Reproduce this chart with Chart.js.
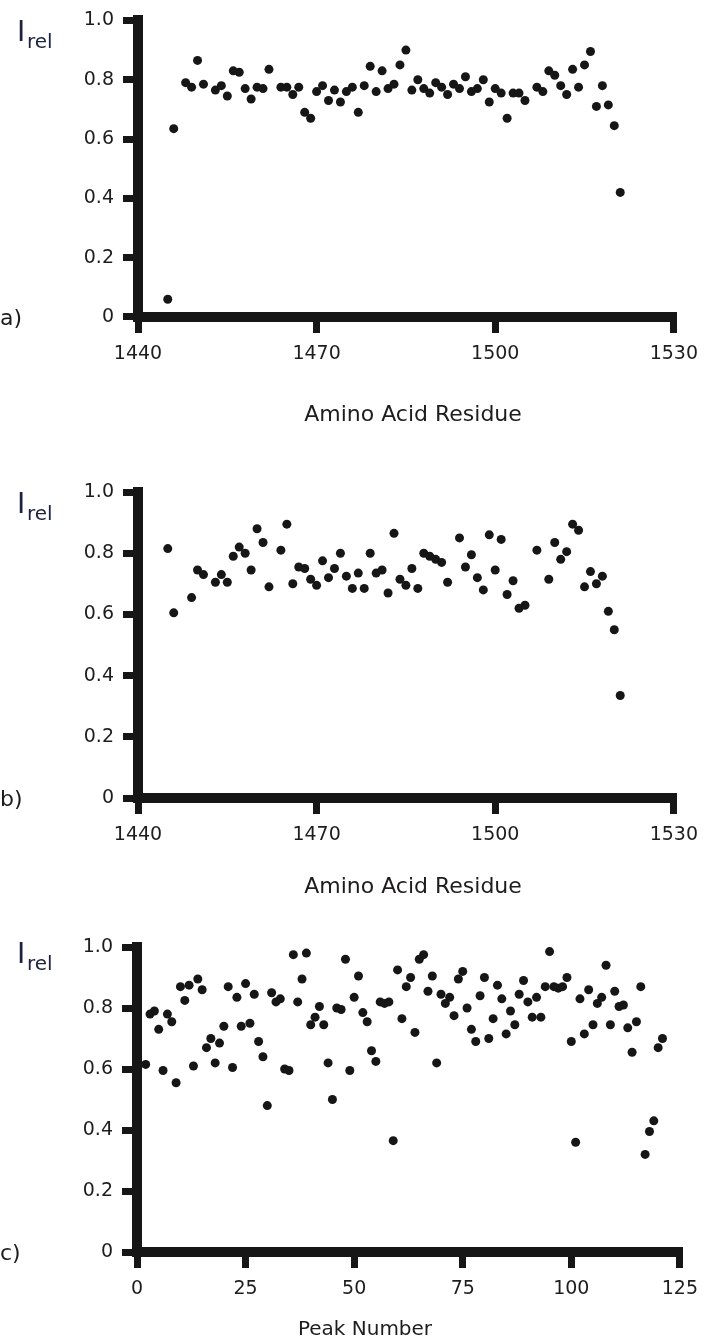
<!DOCTYPE html>
<html>
<head>
<meta charset="utf-8">
<title>Relative peak intensities</title>
<script src="https://cdn.jsdelivr.net/npm/chart.js@4"></script>
<style>
    html, body { margin: 0; padding: 0; background: #fff; }
    #wrap { position: relative; width: 708px; height: 1343px; }
    #wrap canvas { position: absolute; left: 0; top: 0; }
</style>
</head>
<body>
<div id="wrap">
    <canvas id="chart-a" width="708" height="1343"></canvas>
    <canvas id="chart-b" width="708" height="1343"></canvas>
    <canvas id="chart-c" width="708" height="1343"></canvas>
</div>
<script>
// panel a) residue numbers and relative intensities
var residuesA = [1445, 1446, 1448, 1449, 1450, 1451, 1453, 1454, 1455, 1456, 1457, 1458, 1459, 1460,
    1461, 1462, 1464, 1465, 1466, 1467, 1468, 1469, 1470, 1471, 1472, 1473, 1474, 1475, 1476, 1477,
    1478, 1479, 1480, 1481, 1482, 1483, 1484, 1485, 1486, 1487, 1488, 1489, 1490, 1491, 1492, 1493,
    1494, 1495, 1496, 1497, 1498, 1499, 1500, 1501, 1502, 1503, 1504, 1505, 1507, 1508, 1509, 1510,
    1511, 1512, 1513, 1514, 1515, 1516, 1517, 1518, 1519, 1520, 1521];
var intensityA = [0.06, 0.635, 0.79, 0.775, 0.865, 0.785, 0.765, 0.78, 0.745, 0.83, 0.825, 0.77, 0.735, 0.775,
    0.77, 0.835, 0.775, 0.775, 0.75, 0.775, 0.69, 0.67, 0.76, 0.78, 0.73, 0.765, 0.725, 0.76, 0.775, 0.69,
    0.78, 0.845, 0.76, 0.83, 0.77, 0.785, 0.85, 0.9, 0.765, 0.8, 0.77, 0.755, 0.79, 0.775, 0.75, 0.785,
    0.77, 0.81, 0.76, 0.77, 0.8, 0.725, 0.77, 0.755, 0.67, 0.755, 0.755, 0.73, 0.775, 0.76, 0.83, 0.815,
    0.78, 0.75, 0.835, 0.775, 0.85, 0.895, 0.71, 0.78, 0.715, 0.645, 0.42];

// panel b)
var residuesB = [1445, 1446, 1449, 1450, 1451, 1453, 1454, 1455, 1456, 1457, 1458, 1459, 1460, 1461,
    1462, 1464, 1465, 1466, 1467, 1468, 1469, 1470, 1471, 1472, 1473, 1474, 1475, 1476, 1477, 1478,
    1479, 1480, 1481, 1482, 1483, 1484, 1485, 1486, 1487, 1488, 1489, 1490, 1491, 1492, 1494, 1495,
    1496, 1497, 1498, 1499, 1500, 1501, 1502, 1503, 1504, 1505, 1507, 1509, 1510, 1511, 1512, 1513,
    1514, 1515, 1516, 1517, 1518, 1519, 1520, 1521];
var intensityB = [0.815, 0.605, 0.655, 0.745, 0.73, 0.705, 0.73, 0.705, 0.79, 0.82, 0.8, 0.745, 0.88, 0.835,
    0.69, 0.81, 0.895, 0.7, 0.755, 0.75, 0.715, 0.695, 0.775, 0.72, 0.75, 0.8, 0.725, 0.685, 0.735, 0.685,
    0.8, 0.735, 0.745, 0.67, 0.865, 0.715, 0.695, 0.75, 0.685, 0.8, 0.79, 0.78, 0.77, 0.705, 0.85, 0.755,
    0.795, 0.72, 0.68, 0.86, 0.745, 0.845, 0.665, 0.71, 0.62, 0.63, 0.81, 0.715, 0.835, 0.78, 0.805, 0.895,
    0.875, 0.69, 0.74, 0.7, 0.725, 0.61, 0.55, 0.335];

// panel c) peak numbers 2..121
var peaksC = [2, 3, 4, 5, 6, 7, 8, 9, 10, 11, 12, 13, 14, 15, 16, 17, 18, 19, 20, 21, 22, 23, 24, 25, 26,
    27, 28, 29, 30, 31, 32, 33, 34, 35, 36, 37, 38, 39, 40, 41, 42, 43, 44, 45, 46, 47, 48, 49, 50, 51,
    52, 53, 54, 55, 56, 57, 58, 59, 60, 61, 62, 63, 64, 65, 66, 67, 68, 69, 70, 71, 72, 73, 74, 75, 76,
    77, 78, 79, 80, 81, 82, 83, 84, 85, 86, 87, 88, 89, 90, 91, 92, 93, 94, 95, 96, 97, 98, 99, 100, 101,
    102, 103, 104, 105, 106, 107, 108, 109, 110, 111, 112, 113, 114, 115, 116, 117, 118, 119, 120, 121];
var intensityC = [0.615, 0.78, 0.79, 0.73, 0.595, 0.78, 0.755, 0.555, 0.87, 0.825, 0.875, 0.61, 0.895, 0.86,
    0.67, 0.7, 0.62, 0.685, 0.74, 0.87, 0.605, 0.835, 0.74, 0.88, 0.75, 0.845, 0.69, 0.64, 0.48, 0.85,
    0.82, 0.83, 0.6, 0.595, 0.975, 0.82, 0.895, 0.98, 0.745, 0.77, 0.805, 0.745, 0.62, 0.5, 0.8, 0.795,
    0.96, 0.595, 0.835, 0.905, 0.785, 0.755, 0.66, 0.625, 0.82, 0.815, 0.82, 0.365, 0.925, 0.765, 0.87,
    0.9, 0.72, 0.96, 0.975, 0.855, 0.905, 0.62, 0.845, 0.815, 0.835, 0.775, 0.895, 0.92, 0.8, 0.73, 0.69,
    0.84, 0.9, 0.7, 0.765, 0.875, 0.83, 0.715, 0.79, 0.745, 0.845, 0.89, 0.82, 0.77, 0.835, 0.77, 0.87,
    0.985, 0.87, 0.865, 0.87, 0.9, 0.69, 0.36, 0.83, 0.715, 0.86, 0.745, 0.815, 0.835, 0.94, 0.745, 0.855,
    0.805, 0.81, 0.735, 0.655, 0.755, 0.87, 0.32, 0.395, 0.43, 0.67, 0.7];

var yTicks = [0, 0.2, 0.4, 0.6, 0.8, 1.0];
var residueTicks = [1440, 1470, 1500, 1530];
var peakTicks = [0, 25, 50, 75, 100, 125];

var PAGE_W = 708, PAGE_H = 1343;
var FONT = '"DejaVu Sans", "Liberation Sans", Arial, sans-serif';

var colors = {
    ink: '#161616',
    text: '#1e1c1d',
    label: '#1c2240'
};

// draws "I rel", the panel letter and the x axis title
var panelLabel = {
    id: 'panelLabel',
    afterDraw: function (chart, args, opts) {
        var ctx = chart.ctx;
        var area = chart.chartArea;
        ctx.save();
        ctx.fillStyle = colors.label;
        ctx.textBaseline = 'alphabetic';
        ctx.textAlign = 'left';
        ctx.font = '28px ' + FONT;
        ctx.fillText('I', 17, area.top + opts.iDrop);
        ctx.font = '20px ' + FONT;
        ctx.fillText('rel', 27, area.top + opts.iDrop + 7);

        ctx.fillStyle = colors.text;
        ctx.font = '22px ' + FONT;
        ctx.textBaseline = 'middle';
        ctx.fillText(opts.letter, 0, area.bottom + 2);

        ctx.textAlign = 'center';
        ctx.font = opts.titleSize + 'px ' + FONT;
        ctx.fillText(opts.title, opts.titleX, opts.titleY);
        ctx.restore();
    }
};

function axisStyle(tickLength) {
    return {
        grid: {
            drawOnChartArea: false,
            drawTicks: true,
            tickLength: tickLength,
            tickWidth: 7,
            tickColor: colors.ink,
            color: colors.ink,
            lineWidth: 7
        },
        border: { display: true, width: 10, color: colors.ink }
    };
}

function makePanel(id, xs, ys, o) {
    var points = xs.map(function (x, i) {
        return { x: x, y: ys[i] };
    });
    var axisH = o.titleY + 14 - o.bottom;
    var xAxis = axisStyle(16);
    var yAxis = axisStyle(15);

    xAxis.type = 'linear';
    xAxis.min = o.xTicks[0];
    xAxis.max = o.xTicks[o.xTicks.length - 1];
    xAxis.afterBuildTicks = function (scale) {
        scale.ticks = o.xTicks.map(function (v) { return { value: v }; });
    };
    xAxis.ticks = {
        autoSkip: false,
        maxRotation: 0,
        padding: 10,
        color: colors.text,
        font: { family: FONT, size: 19 },
        callback: function (v) { return String(v); }
    };
    xAxis.afterFit = function (scale) { scale.height = axisH; };

    yAxis.min = 0;
    yAxis.max = 1;
    yAxis.afterBuildTicks = function (scale) {
        scale.ticks = yTicks.map(function (v) { return { value: v }; });
    };
    yAxis.ticks = {
        autoSkip: false,
        padding: 9,
        color: colors.text,
        font: { family: FONT, size: 19 },
        callback: function (v) { return v === 0 ? '0' : v.toFixed(1); }
    };
    yAxis.afterFit = function (scale) { scale.width = o.left; };

    return new Chart(document.getElementById(id), {
        type: 'scatter',
        data: {
            datasets: [{
                data: points,
                backgroundColor: colors.ink,
                borderWidth: 0,
                pointRadius: 4.5,
                pointHoverRadius: 4.5
            }]
        },
        options: {
            responsive: false,
            animation: false,
            events: [],
            layout: {
                padding: {
                    left: 0,
                    top: o.top,
                    right: PAGE_W - o.right,
                    bottom: PAGE_H - o.bottom - axisH
                }
            },
            plugins: {
                legend: { display: false },
                tooltip: { enabled: false },
                panelLabel: {
                    letter: o.letter, iDrop: o.iDrop,
                    title: o.xTitle, titleX: o.titleX, titleY: o.titleY, titleSize: o.titleSize
                }
            },
            scales: { x: xAxis, y: yAxis }
        },
        plugins: [panelLabel]
    });
}

makePanel('chart-a', residuesA, intensityA, {
    letter: 'a)', top: 12, bottom: 317, left: 138, right: 678, iDrop: 21,
    xTicks: residueTicks, xTitle: 'Amino Acid Residue', titleX: 413, titleY: 415, titleSize: 22
});
makePanel('chart-b', residuesB, intensityB, {
    letter: 'b)', top: 492, bottom: 798, left: 138, right: 678, iDrop: 21,
    xTicks: residueTicks, xTitle: 'Amino Acid Residue', titleX: 413, titleY: 887, titleSize: 22
});
makePanel('chart-c', peaksC, intensityC, {
    letter: 'c)', top: 947, bottom: 1252, left: 137, right: 688, iDrop: 16,
    xTicks: peakTicks, xTitle: 'Peak Number', titleX: 365, titleY: 1330, titleSize: 20
});
</script>
</body>
</html>
